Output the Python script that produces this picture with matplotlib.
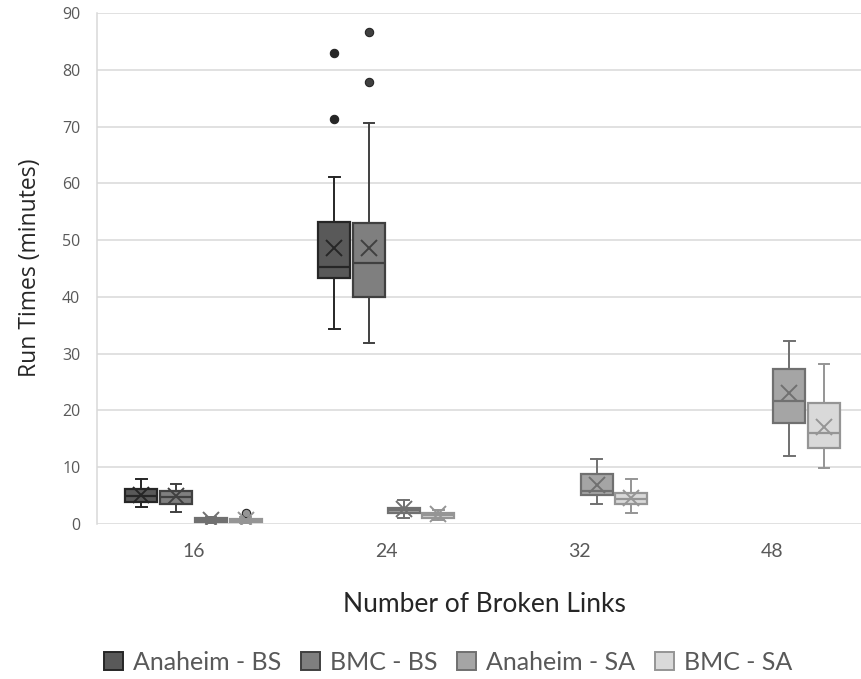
import matplotlib
matplotlib.use("Agg")
import matplotlib.pyplot as plt
from matplotlib.patches import Patch

# Categories and series
categories = ["16", "24", "32", "48"]
series_names = ["Anaheim - BS", "BMC - BS", "Anaheim - SA", "BMC - SA"]

# Five-number summaries per category: (whisker low, Q1, median, Q3, whisker high)
anaheim_bs_stats = [(3.0, 3.9, 4.9, 6.2, 7.9), (34.3, 43.3, 45.2, 53.2, 61.1), None, None]
bmc_bs_stats = [(2.1, 3.5, 4.8, 5.8, 7.0), (31.9, 40.0, 46.0, 53.0, 70.6), None, None]
anaheim_sa_stats = [(0.2, 0.4, 0.7, 1.0, 1.3), (1.1, 1.9, 2.5, 2.8, 4.2),
                    (3.5, 5.1, 5.8, 8.8, 11.4), (12.0, 17.8, 21.7, 27.3, 32.2)]
bmc_sa_stats = [(0.1, 0.3, 0.5, 0.9, 1.2), (0.7, 1.1, 1.6, 1.9, 2.5),
                (2.0, 3.5, 4.4, 5.5, 7.9), (9.9, 13.4, 16.0, 21.3, 28.2)]

# Means per category
anaheim_bs_means = [5.1, 48.6, None, None]
bmc_bs_means = [5.0, 48.6, None, None]
anaheim_sa_means = [0.7, 2.6, 6.9, 23.1]
bmc_sa_means = [0.7, 1.7, 4.5, 17.1]

# Outliers per category
anaheim_bs_outliers = [[], [71.3, 82.9], [], []]
bmc_bs_outliers = [[], [77.8, 86.6], [], []]
anaheim_sa_outliers = [[], [], [], []]
bmc_sa_outliers = [[2.0], [], [], []]

y_ticks = [0, 10, 20, 30, 40, 50, 60, 70, 80, 90]

all_stats = [anaheim_bs_stats, bmc_bs_stats, anaheim_sa_stats, bmc_sa_stats]
all_means = [anaheim_bs_means, bmc_bs_means, anaheim_sa_means, bmc_sa_means]
all_outliers = [anaheim_bs_outliers, bmc_bs_outliers, anaheim_sa_outliers, bmc_sa_outliers]

fills = ["#595959", "#7f7f7f", "#a5a5a5", "#d9d9d9"]
edges = ["#262626", "#404040", "#707070", "#959595"]
offsets = [-0.27, -0.09, 0.09, 0.27]
box_w = 0.166

narrow = ["Lato", "DejaVu Sans"]

fig = plt.figure(figsize=(8.62, 6.79), dpi=100)
ax = fig.add_axes([97 / 862, 155 / 679, 765 / 862, 511 / 679])

for s in range(4):
    stats, positions = [], []
    for i in range(len(categories)):
        st = all_stats[s][i]
        if st is None:
            continue
        lo, q1, med, q3, hi = st
        stats.append(dict(whislo=lo, q1=q1, med=med, q3=q3, whishi=hi,
                          mean=all_means[s][i], fliers=all_outliers[s][i]))
        positions.append(i + offsets[s])
    ec = edges[s]
    ax.bxp(stats, positions=positions, widths=box_w, capwidths=0.055,
           showmeans=True, patch_artist=True,
           boxprops=dict(facecolor=fills[s], edgecolor=ec, linewidth=1.6),
           medianprops=dict(color=ec, linewidth=1.6),
           whiskerprops=dict(color=ec, linewidth=1.4),
           capprops=dict(color=ec, linewidth=1.4),
           meanprops=dict(marker="x", markeredgecolor=ec, markersize=12,
                          markeredgewidth=1.4),
           flierprops=dict(marker="o", markerfacecolor=ec, markeredgecolor="#262626",
                           markersize=6, markeredgewidth=0.8),
           zorder=3)

ax.set_xlim(-0.5, 3.466)
ax.set_ylim(0, 90)
ax.set_yticks(y_ticks)
ax.set_yticklabels([str(v) for v in y_ticks], fontfamily="Open Sans",
                   fontsize=11.5, color="#595959")
ax.set_xticks(range(len(categories)))
ax.set_xticklabels(categories, fontfamily=narrow, fontsize=14, color="#595959")
ax.tick_params(axis="both", length=0)
ax.tick_params(axis="x", pad=14)
ax.tick_params(axis="y", pad=12)

ax.grid(axis="y", color="#d9d9d9", linewidth=1.1, zorder=0)
ax.set_axisbelow(True)
for side in ["top", "right", "bottom"]:
    ax.spines[side].set_visible(False)
ax.spines["left"].set_color("#d9d9d9")
ax.spines["left"].set_linewidth(1.1)

fig.text(30 / 862, 1 - 268 / 679, "Run Times (minutes)", rotation=90,
         ha="center", va="center", fontfamily="Open Sans", fontsize=16.5,
         color="#262626")
fig.text(484 / 862, 1 - 605 / 679, "Number of Broken Links", ha="center",
         va="center", fontfamily=narrow, fontsize=19, color="#262626")

handles = [Patch(facecolor=fills[s], edgecolor=edges[s], linewidth=1.4)
           for s in range(4)]
leg = fig.legend(handles, series_names, loc="center", ncol=4,
                 bbox_to_anchor=(448 / 862, 1 - 662 / 679), frameon=False,
                 prop=dict(family=narrow, size=18), handlelength=0.75,
                 handleheight=0.75, handletextpad=0.4, columnspacing=0.8)
for t in leg.get_texts():
    t.set_color("#595959")

fig.savefig("out.png", dpi=100)
